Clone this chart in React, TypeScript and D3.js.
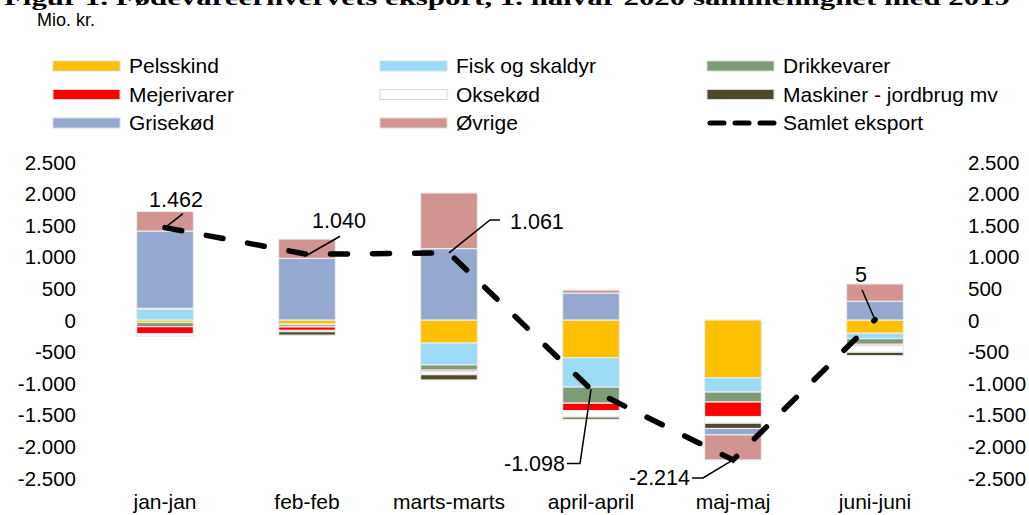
import React from "react";
import * as d3 from "d3";

const categories = ["jan-jan", "feb-feb", "marts-marts", "april-april", "maj-maj", "juni-juni"];
const seriesNames = ["Pelsskind", "Fisk og skaldyr", "Drikkevarer", "Mejerivarer", "Oksekød", "Maskiner - jordbrug mv", "Grisekød", "Øvrige"];
const pelsskind = [-40, -65, -365, -596, -915, -210];
const fisk = [170, -10, -345, -465, -225, -85];
const drikkevarer = [-65, -35, -85, -255, -158, -90];
const mejerivarer = [-110, -55, -25, -120, -230, -25];
const oksekod = [-40, -20, -45, -100, -105, -100];
const maskiner = [15, -55, -84, -35, -84, -55];
const grisekod = [1223, 975, 1130, 425, -100, 296];
const ovrige = [309, 305, 880, 48, -397, 274];
const samlet = [1462, 1040, 1061, -1098, -2214, 5];
const samletLabels = ["1.462", "1.040", "1.061", "-1.098", "-2.214", "5"];
const yTicks = [2500, 2000, 1500, 1000, 500, 0, -500, -1000, -1500, -2000, -2500];
const legendItems = ["Pelsskind", "Fisk og skaldyr", "Drikkevarer", "Mejerivarer", "Oksekød", "Maskiner - jordbrug mv", "Grisekød", "Øvrige", "Samlet eksport"];

const colors: Record<string, string> = {
  "Pelsskind": "#FFC000",
  "Fisk og skaldyr": "#9BDBF5",
  "Drikkevarer": "#7E9B78",
  "Mejerivarer": "#FF0000",
  "Oksekød": "#FFFFFF",
  "Maskiner - jordbrug mv": "#4F4A2C",
  "Grisekød": "#94A8D0",
  "Øvrige": "#D29393",
};

// label placement relative to the point
const labelLayout: { dx: number; dy: number; anchor: string; path: [number, number][] }[] = [
  { dx: 11, dy: -21, anchor: "middle", path: [[0, 0], [18, -14]] },
  { dx: 32, dy: -26, anchor: "middle", path: [[0, 1], [33, -18]] },
  { dx: 61, dy: -24, anchor: "start", path: [[0, 0], [41, -33], [51, -33]] },
  { dx: -26, dy: 82, anchor: "end", path: [[0, 0], [-11, 74], [-24, 74]] },
  { dx: -43, dy: 25, anchor: "end", path: [[0, 0], [-30, 18], [-41, 18]] },
  { dx: -14, dy: -38, anchor: "middle", path: [[0, 0], [-13, -30]] },
];

const fmt = (v: number) => {
  const s = Math.abs(v).toString().replace(/\B(?=(\d{3})+(?!\d))/g, ".");
  return (v < 0 ? "-" : "") + s;
};

export default function App() {
  const W = 1029, H = 515;
  const font = "'Liberation Sans', Arial, sans-serif";
  const x = d3.scaleBand<string>().domain(categories).range([94, 946]).paddingInner(0.6).paddingOuter(0.3);
  const y = d3.scaleLinear().domain([-2500, 2500]).range([478, 162]);
  const valuesBySeries = [pelsskind, fisk, drikkevarer, mejerivarer, oksekod, maskiner, grisekod, ovrige];
  const table = categories.map((c, i) => {
    const row: Record<string, any> = { cat: c };
    seriesNames.forEach((s, j) => (row[s] = valuesBySeries[j][i]));
    return row;
  });
  const stack = d3.stack<any>().keys(seriesNames).offset(d3.stackOffsetDiverging);
  const stacked = stack(table);
  const cx = (c: string) => (x(c) as number) + x.bandwidth() / 2;
  const line = d3.line<number>().x((_, i) => cx(categories[i])).y((d) => y(d));

  const legendCols = [53, 380, 707];
  const legendRows = [66, 94.5, 123];

  return (
    <svg width={W} height={H} style={{ position: "absolute", left: 0, top: 0, background: "#fff" }} fontFamily={font}>
      <text x={4} y={5} fontFamily="'Liberation Serif', 'Times New Roman', serif" fontWeight="bold" fontSize={21} textLength={1006} lengthAdjust="spacingAndGlyphs">
        Figur 1. Fødevareerhvervets eksport, 1. halvår 2020 sammenlignet med 2019
      </text>
      <text x={37} y={26} fontSize={18} fill="#000">Mio. kr.</text>

      {legendItems.map((name, i) => {
        const lx = legendCols[i % 3];
        const ly = legendRows[Math.floor(i / 3)];
        return (
          <g key={name}>
            {name === "Samlet eksport" ? (
              <line x1={lx + 3} x2={lx + 67} y1={ly} y2={ly} stroke="#000" strokeWidth={5} strokeDasharray="14 11" strokeLinecap="round" />
            ) : (
              <rect x={lx} y={ly - 5} width={67} height={10} fill={colors[name]} stroke="#D9D9D9" strokeWidth={1} />
            )}
            <text x={lx + 76} y={ly + 7} fontSize={21}>{name}</text>
          </g>
        );
      })}

      {yTicks.map((t) => (
        <g key={t}>
          <text x={76} y={y(t) + 7.5} fontSize={20.5} textAnchor="end">{fmt(t)}</text>
          <text x={968} y={y(t) + 7.5} fontSize={20.5} textAnchor="start">{fmt(t)}</text>
        </g>
      ))}

      {stacked.map((s) => (
        <g key={s.key}>
          {s.map((d, i) => {
            const y0 = y(d[0]), y1 = y(d[1]);
            const top = Math.min(y0, y1), h = Math.abs(y1 - y0);
            if (h < 0.01) return null;
            return (
              <rect key={i} x={x(categories[i])} y={top} width={x.bandwidth()} height={h}
                fill={colors[s.key]} stroke="#EBEBEB" strokeWidth={1.2} />
            );
          })}
        </g>
      ))}

      {categories.map((c) => (
        <text key={c} x={cx(c)} y={509} fontSize={21} textAnchor="middle">{c}</text>
      ))}

      <path d={line(samlet) as string} fill="none" stroke="#000" strokeWidth={5.5} strokeDasharray="17 25" strokeLinecap="round" />

      {samlet.map((v, i) => {
        const px = cx(categories[i]), py = y(v);
        const L = labelLayout[i];
        const pts = L.path.map(([a, b]) => [px + a, py + b] as [number, number]);
        return (
          <g key={i}>
            <path d={d3.line()(pts) as string} fill="none" stroke="#000" strokeWidth={1.5} />
            <text x={px + L.dx} y={py + L.dy} fontSize={21.5} textAnchor={L.anchor}>{samletLabels[i]}</text>
          </g>
        );
      })}
    </svg>
  );
}
